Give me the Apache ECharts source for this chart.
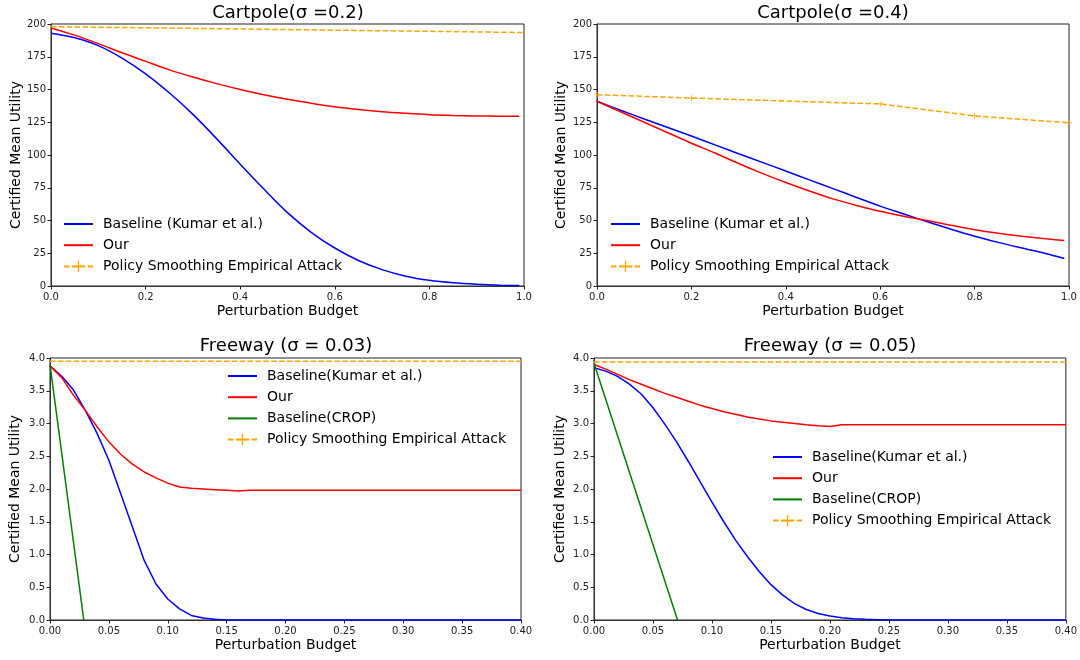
<!DOCTYPE html>
<html>
<head>
<meta charset="utf-8">
<script src="https://cdn.jsdelivr.net/npm/echarts@6/dist/echarts.min.js"></script>
<style>
  html, body { margin: 0; padding: 0; background: #fff; }
  #main { width: 1080px; height: 660px; }
</style>
</head>
<body>
<div id="main"></div>
<script>
// Cartpole (sigma = 0.2)
var cp2X = [0, 0.05, 0.1, 0.15, 0.2, 0.25, 0.3, 0.35, 0.4, 0.45, 0.5, 0.55, 0.6, 0.65, 0.7, 0.75, 0.8, 0.85, 0.9, 0.95, 0.99];
var cp2Baseline = [193, 189.5, 183.5, 174, 162, 147.5, 131, 112.5, 93, 74, 56, 41, 29, 19.5, 12.5, 7.5, 4.3, 2.4, 1.3, 0.6, 0.3];
var cp2Our = [197, 191.5, 185, 178, 171.5, 165, 159.5, 154.5, 150, 146, 142.5, 139.5, 136.8, 134.7, 133, 131.8, 130.8, 130.2, 129.8, 129.6, 129.5];
var cp2AttackX = [0, 1.0];
var cp2Attack = [198, 193.5];

// Cartpole (sigma = 0.4)
var cp4X = [0, 0.05, 0.1, 0.15, 0.2, 0.25, 0.3, 0.35, 0.4, 0.45, 0.5, 0.55, 0.6, 0.65, 0.7, 0.75, 0.8, 0.85, 0.9, 0.95, 0.99];
var cp4Baseline = [141, 134.2, 127.5, 121, 114.5, 107.7, 101, 94.4, 87.8, 81, 74.3, 67.6, 61, 55, 49, 43.3, 38, 33.3, 29, 24.8, 21];
var cp4Our = [141, 133, 125, 117, 109, 101.5, 93.5, 86, 79, 72.5, 66.5, 61.5, 57, 53.2, 50, 46.3, 43, 40.3, 38, 36, 34.7];
var cp4AttackX = [0, 0.2, 0.6, 0.8, 1.0];
var cp4Attack = [146, 143.5, 139, 129.8, 124.6];

// Freeway (sigma = 0.03)
var fw3X = [0, 0.01, 0.02, 0.03, 0.04, 0.05, 0.06, 0.07, 0.08, 0.09, 0.10, 0.11, 0.12, 0.13, 0.14, 0.15, 0.16, 0.17, 0.40];
var fw3Baseline = [3.88, 3.72, 3.51, 3.2, 2.85, 2.44, 1.93, 1.42, 0.91, 0.55, 0.32, 0.17, 0.07, 0.03, 0.01, 0, 0, 0, 0];
var fw3Our = [3.88, 3.7, 3.43, 3.2, 2.95, 2.72, 2.53, 2.38, 2.26, 2.17, 2.09, 2.03, 2.01, 2.0, 1.99, 1.98, 1.97, 1.98, 1.98];
var fw3CropX = [0, 0.0287];
var fw3Crop = [3.9, 0];
var fw3AttackX = [0, 0.4];
var fw3Attack = [3.95, 3.95];

// Freeway (sigma = 0.05)
var fw5X = [0, 0.01, 0.02, 0.03, 0.04, 0.05, 0.06, 0.07, 0.08, 0.09, 0.10, 0.11, 0.12, 0.13, 0.14, 0.15, 0.16, 0.17, 0.18, 0.19, 0.20, 0.21, 0.22, 0.23, 0.24, 0.25, 0.40];
var fw5Baseline = [3.85, 3.8, 3.72, 3.6, 3.45, 3.24, 2.99, 2.72, 2.42, 2.11, 1.8, 1.5, 1.22, 0.97, 0.74, 0.54, 0.38, 0.25, 0.16, 0.1, 0.06, 0.035, 0.02, 0.01, 0.005, 0, 0];
var fw5Our = [3.9, 3.83, 3.75, 3.67, 3.6, 3.53, 3.46, 3.4, 3.34, 3.28, 3.23, 3.18, 3.14, 3.1, 3.07, 3.04, 3.02, 3.0, 2.98, 2.965, 2.955, 2.98, 2.98, 2.98, 2.98, 2.98, 2.98];
var fw5CropX = [0, 0.0708];
var fw5Crop = [3.92, 0];
var fw5AttackX = [0, 0.4];
var fw5Attack = [3.94, 3.94];

var font = 'DejaVu Sans';
var plusPath = 'path://M-0.12,-1L0.12,-1L0.12,-0.12L1,-0.12L1,0.12L0.12,0.12L0.12,1L-0.12,1L-0.12,0.12L-1,0.12L-1,-0.12L-0.12,-0.12Z';

function pairs(xs, ys) {
  return xs.map(function (x, i) { return [x, ys[i]] });
}

function line(name, color, xs, ys, idx, opts) {
  opts = opts || {}
  var s = {
    name: name,
    type: 'line',
    xAxisIndex: idx,
    yAxisIndex: idx,
    data: pairs(xs, ys),
    symbol: 'none',
    lineStyle: { color: color, width: 1.5 },
    // solid lines: hide the legend marker, keep just the line
    itemStyle: { color: color, opacity: 0 },
    animation: false,
    silent: true
  };
  if (opts.smooth) {
    s.smooth = 0.3;
  }
  if (opts.dashed) {
    s.lineStyle.type = [5.5, 2.4];
    s.symbol = plusPath;
    s.symbolSize = 6;
    s.showSymbol = !!opts.marks;
    s.itemStyle = { color: color };
    s.z = 5;
  }
  return s;
}

function xAx(idx, max, interval, digits) {
  return {
    type: 'value', gridIndex: idx, min: 0, max: max, interval: interval,
    name: 'Perturbation Budget', nameLocation: 'middle', nameGap: 18,
    nameTextStyle: { fontFamily: font, fontSize: 14, color: '#000' },
    axisLine: { lineStyle: { color: '#333', width: 1 } },
    axisTick: { length: 3.5, lineStyle: { color: '#222' } },
    axisLabel: { fontFamily: font, fontSize: 10, color: '#222', margin: 6,
      formatter: function (v) { return v.toFixed(digits) } },
    splitLine: { show: false }
  };
}

function yAx(idx, max, interval, digits, gap) {
  return {
    type: 'value', gridIndex: idx, min: 0, max: max, interval: interval,
    name: 'Certified Mean Utility', nameLocation: 'middle', nameGap: gap,
    nameTextStyle: { fontFamily: font, fontSize: 14, color: '#000' },
    axisLine: { lineStyle: { color: '#333', width: 1 } },
    axisTick: { length: 3.5, lineStyle: { color: '#222' } },
    axisLabel: { fontFamily: font, fontSize: 10, color: '#222', margin: 5,
      formatter: function (v) { return v.toFixed(digits) } },
    splitLine: { show: false }
  };
}

function legend(names, left, top) {
  return {
    data: names, orient: 'vertical', left: left, top: top, padding: 0,
    itemWidth: 29, itemHeight: 14, itemGap: 7.2, selectedMode: false,
    textStyle: { fontFamily: font, fontSize: 14, color: '#000', padding: [0, 0, 0, 5] }
  };
}

function title(text, left, top) {
  return {
    text: text, left: left, top: top, textAlign: 'center', padding: 0,
    textStyle: { fontFamily: font, fontSize: 18, fontWeight: 'normal', color: '#000' }
  };
}

var chart = echarts.init(document.getElementById('main'), null, { renderer: 'canvas' });

var option = {
  backgroundColor: '#fff',
  animation: false,
  title: [
    title('Cartpole(σ =0.2)', 288, 4),
    title('Cartpole(σ =0.4)', 833, 4),
    title('Freeway (σ = 0.03)', 286, 337),
    title('Freeway (σ = 0.05)', 830, 337)
  ],
  grid: [
    { left: 51, right: 556, top: 24, bottom: 374, show: true, borderColor: '#222', borderWidth: 1 },
    { left: 597, right: 11, top: 24, bottom: 374, show: true, borderColor: '#222', borderWidth: 1 },
    { left: 50, right: 559, top: 358, bottom: 40, show: true, borderColor: '#222', borderWidth: 1 },
    { left: 594, right: 14, top: 358, bottom: 40, show: true, borderColor: '#222', borderWidth: 1 }
  ],
  xAxis: [
    xAx(0, 1, 0.2, 1),
    xAx(1, 1, 0.2, 1),
    xAx(2, 0.4, 0.05, 2),
    xAx(3, 0.4, 0.05, 2)
  ],
  yAxis: [
    yAx(0, 200, 25, 0, 28),
    yAx(1, 200, 25, 0, 29),
    yAx(2, 4, 0.5, 1, 28),
    yAx(3, 4, 0.5, 1, 27)
  ],
  legend: [
    legend(['Baseline (Kumar et al.)', 'Our', 'Policy Smoothing Empirical Attack'], 63, 217),
    legend(['Baseline (Kumar et al.)', 'Our', 'Policy Smoothing Empirical Attack'], 610, 217),
    legend(['Baseline(Kumar et al.)', 'Our', 'Baseline(CROP)', 'Policy Smoothing Empirical Attack'], 227, 369),
    legend(['Baseline(Kumar et al.)', 'Our', 'Baseline(CROP)', 'Policy Smoothing Empirical Attack'], 772, 450)
  ],
  series: [
    line('Baseline (Kumar et al.)', '#0000ff', cp2X, cp2Baseline, 0, { smooth: true }),
    line('Our', '#ff0000', cp2X, cp2Our, 0, { smooth: true }),
    line('Policy Smoothing Empirical Attack', '#ffa500', cp2AttackX, cp2Attack, 0, { dashed: true }),

    line('Baseline (Kumar et al.)', '#0000ff', cp4X, cp4Baseline, 1, { smooth: true }),
    line('Our', '#ff0000', cp4X, cp4Our, 1, { smooth: true }),
    line('Policy Smoothing Empirical Attack', '#ffa500', cp4AttackX, cp4Attack, 1, { dashed: true, marks: true }),

    line('Baseline(Kumar et al.)', '#0000ff', fw3X, fw3Baseline, 2),
    line('Our', '#ff0000', fw3X, fw3Our, 2),
    line('Baseline(CROP)', '#008000', fw3CropX, fw3Crop, 2),
    line('Policy Smoothing Empirical Attack', '#ffa500', fw3AttackX, fw3Attack, 2, { dashed: true }),

    line('Baseline(Kumar et al.)', '#0000ff', fw5X, fw5Baseline, 3),
    line('Our', '#ff0000', fw5X, fw5Our, 3),
    line('Baseline(CROP)', '#008000', fw5CropX, fw5Crop, 3),
    line('Policy Smoothing Empirical Attack', '#ffa500', fw5AttackX, fw5Attack, 3, { dashed: true })
  ]
};

chart.setOption(option);
</script>
</body>
</html>
